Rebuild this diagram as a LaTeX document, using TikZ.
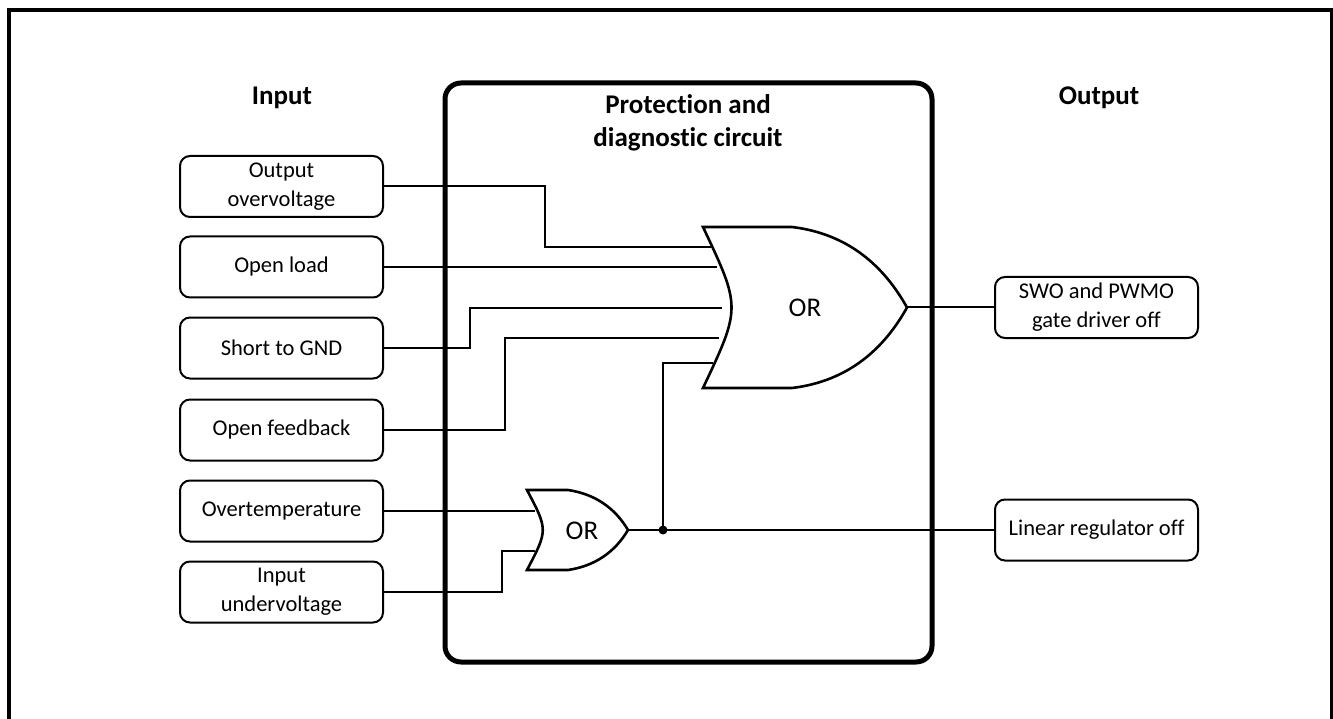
\documentclass[tikz,border=0pt]{standalone}
\usepackage{fontspec}
\setmainfont{Carlito}[Ligatures={NoCommon}]
\begin{document}
\begin{tikzpicture}[x=1pt,y=-1pt,
  inbox/.style={draw, line width=2pt, rounded corners=10pt, minimum width=203pt, minimum height=61pt, align=center, font=\fontsize{22.5}{29}\selectfont, inner sep=0pt},
  wire/.style={line width=2pt},
  gate/.style={line width=2.6pt, fill=white, line join=miter},
  head/.style={font=\fontsize{27}{33}\selectfont\bfseries, align=center},
  gatelabel/.style={font=\fontsize{27}{30}\selectfont}]
\useasboundingbox (0,0) rectangle (1333,719);
% outer frame
\draw[line width=4pt] (9,740) -- (9,10.5) -- (1331.5,10.5) -- (1331.5,740);
% main block
\node[draw, line width=5pt, rounded corners=16pt, minimum width=487pt, minimum height=579pt, inner sep=0pt] (pdc) at (688.5,372.5) {};
\node[head] (title) at (688,123) {Protection and\\diagnostic circuit};
\node[head] (inhead) at (282,98) {Input};
\node[head] (outhead) at (1099,98) {Output};
% input boxes
\node[inbox] (ov) at (281.5,186.5) {Output\\overvoltage};
\node[inbox] (ol) at (281.5,267) {Open load};
\node[inbox] (sg) at (281.5,348) {Short to GND};
\node[inbox] (fb) at (281.5,430) {Open feedback};
\node[inbox] (ot) at (281.5,511) {Overtemperature};
\node[inbox] (uv) at (281.5,592) {Input\\undervoltage};
% output boxes
\node[inbox] (swo) at (1096.5,307.5) {SWO and PWMO\\gate driver off};
\node[inbox] (lr) at (1096.5,530) {Linear regulator off};
% gate pins
\coordinate (g1a) at (711.3,247);
\coordinate (g1b) at (717.2,267);
\coordinate (g1c) at (722,308);
\coordinate (g1d) at (719.3,338);
\coordinate (g1e) at (713,363);
\coordinate (g1o) at (907,307.5);
\coordinate (g2a) at (535.1,511);
\coordinate (g2b) at (534.6,551);
\coordinate (g2o) at (628,530);
\coordinate (j) at (663,530);
% wires
\draw[wire] (ov.east) -| (545,247) -- (g1a);
\draw[wire] (ol.east) -- (g1b);
\draw[wire] (sg.east) -| (470,308) -- (g1c);
\draw[wire] (fb.east) -| (505,338) -- (g1d);
\draw[wire] (j) |- (g1e);
\draw[wire] (ot.east) -- (g2a);
\draw[wire] (uv.east) -| (502,551) -- (g2b);
\draw[wire] (g2o) -- (j) -- (lr.west);
\draw[wire] (g1o) -- (swo.west);
\fill (j) circle (4.5pt);
% big OR gate
\draw[gate] (703,227) -- (792,227) .. controls (850,234) and (885,268) .. (907,307.5)
  .. controls (885,347) and (850,381) .. (792,388) -- (703,388) .. controls (741,307.5) .. (703,227) -- cycle;
\node[gatelabel] (or1) at (805,308) {OR};
% small OR gate
\draw[gate] (527,490) -- (568,490) .. controls (595,494) and (615,508) .. (628,530)
  .. controls (615,552) and (595,566) .. (568,570) -- (527,570) .. controls (548,530) .. (527,490) -- cycle;
\node[gatelabel] (or2) at (582,531) {OR};
\end{tikzpicture}
\end{document}
